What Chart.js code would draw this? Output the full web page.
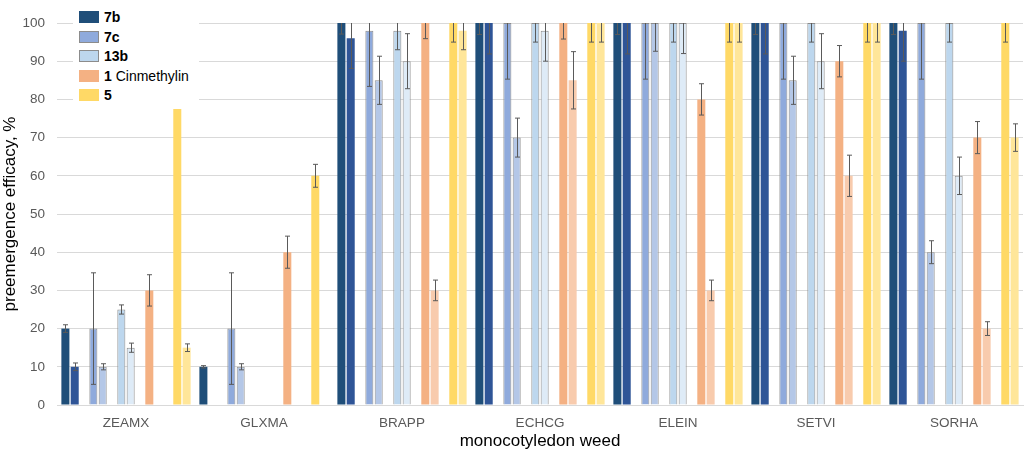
<!DOCTYPE html>
<html>
<head>
<meta charset="utf-8">
<script src="https://cdn.jsdelivr.net/npm/chart.js@4"></script>
<style>
  body { margin: 0; background: #fff; }
  #wrap { position: relative; width: 1024px; height: 453px; }
  #legend {
    position: absolute; left: 73px; top: 5px; width: 126px; height: 103px;
    background: #fff; font-family: "Liberation Sans", Arial, sans-serif; font-size: 14px; color: #000;
  }
  .item { position: absolute; left: 6px; height: 14px; line-height: 14px; white-space: nowrap; }
  .item span.box { position: absolute; left: 0; top: 1px; width: 20px; height: 12px; box-sizing: border-box; }
  .item span.lbl { position: absolute; left: 25px; top: 0; }
</style>
</head>
<body>
<div id="wrap">
  <canvas id="chart"></canvas>
  <div id="legend"></div>
</div>
<script>
// categories
const weeds = ['ZEAMX', 'GLXMA', 'BRAPP', 'ECHCG', 'ELEIN', 'SETVI', 'SORHA'];

// efficacy values (%), higher dose then lower dose per compound
const b7High  = [20, 10, 100, 100, 100, 100, 100];
const b7Low   = [10,  0,  96, 100, 100, 100,  98];
const c7High  = [20, 20,  98, 100, 100, 100, 100];
const c7Low   = [10, 10,  85,  70, 100,  85,  40];
const b13High = [25,  0,  98, 100, 100, 100, 100];
const b13Low  = [15,  0,  90,  98, 100,  90,  60];
const cinHigh = [30, 40, 100, 100,  80,  90,  70];
const cinLow  = [ 0,  0,  30,  85,  30,  60,  20];
const f5High  = [77.5, 60, 100, 100, 100, 100, 100];
const f5Low   = [15,  0,  98, 100, 100, 100,  70];

// error bar half-widths
const b7HighErr  = [1, 0.3, 2.9, 3, 3, 3, 3];
const b7LowErr   = [1, 0, 7.9, 8.1, 8.1, 8.1, 8];
const c7HighErr  = [14.6, 14.6, 14.6, 14.7, 14.7, 14.7, 14.7];
const c7LowErr   = [0.8, 0.8, 6.3, 5.1, 7.4, 6.3, 3];
const b13HighErr = [1.2, 0, 5, 5, 5, 5, 5];
const b13LowErr  = [1.2, 0, 7.2, 8, 8, 7.2, 4.9];
const cinHighErr = [4.1, 4.2, 4.1, 4.2, 4.1, 4.1, 4.2];
const cinLowErr  = [0, 0, 2.7, 7.5, 2.7, 5.4, 1.8];
const f5HighErr  = [0, 3, 5, 5, 5, 5, 5];
const f5LowErr   = [1, 0, 5, 5, 5, 5, 3.6];

const yTicks = [0, 10, 20, 30, 40, 50, 60, 70, 80, 90, 100];

const FONT = '"Liberation Sans", Arial, sans-serif';
const GREY_EDGE = '#8c8c8c';

function bars(data, err, color, edge) {
  return {
    data, err,
    backgroundColor: color,
    borderColor: edge || color,
    borderWidth: edge ? 1 : 0
  };
}
const gap = () => ({ data: weeds.map(() => null), err: [] });

const datasets = [
  bars(b7High, b7HighErr, '#1F4E79'),
  bars(b7Low, b7LowErr, '#2F5597'),
  gap(),
  bars(c7High, c7HighErr, '#8FAADC', GREY_EDGE),
  bars(c7Low, c7LowErr, '#B4C7E7', GREY_EDGE),
  gap(),
  bars(b13High, b13HighErr, '#BDD7EE', GREY_EDGE),
  bars(b13Low, b13LowErr, '#DEEBF7', GREY_EDGE),
  gap(),
  bars(cinHigh, cinHighErr, '#F4B183'),
  bars(cinLow, cinLowErr, '#F8CBAD'),
  gap(),
  bars(f5High, f5HighErr, '#FFD966'),
  bars(f5Low, f5LowErr, '#FFE699')
];

// error bars drawn from the y scale
const errorBars = {
  id: 'errorBars',
  afterDatasetsDraw(chart) {
    const { ctx, chartArea: a, scales: { y } } = chart;
    ctx.save();
    ctx.beginPath();
    ctx.rect(a.left, a.top, a.right - a.left, a.bottom - a.top);
    ctx.clip();
    ctx.strokeStyle = '#5a5a5a';
    ctx.lineWidth = 1;
    chart.data.datasets.forEach((ds, di) => {
      const meta = chart.getDatasetMeta(di);
      (ds.err || []).forEach((e, i) => {
        if (!e || ds.data[i] == null) return;
        const x = Math.round(meta.data[i].x) + 0.5;
        const yHi = y.getPixelForValue(ds.data[i] + e);
        const yLo = y.getPixelForValue(ds.data[i] - e);
        ctx.beginPath();
        ctx.moveTo(x, yHi); ctx.lineTo(x, yLo);
        ctx.moveTo(x - 2.5, yHi); ctx.lineTo(x + 2.5, yHi);
        ctx.moveTo(x - 2.5, yLo); ctx.lineTo(x + 2.5, yLo);
        ctx.stroke();
      });
    });
    ctx.restore();
  }
};

new Chart(document.getElementById('chart'), {
  type: 'bar',
  data: { labels: weeds, datasets },
  options: {
    responsive: true,
    maintainAspectRatio: false,
    animation: false,
    categoryPercentage: 0.946,
    barPercentage: 0.86,
    layout: { padding: { top: 23, right: 1, left: 0, bottom: 0 } },
    plugins: { legend: { display: false }, tooltip: { enabled: false } },
    scales: {
      x: {
        grid: { display: false, drawTicks: false },
        border: { color: '#d9d9d9' },
        ticks: { color: '#595959', font: { family: FONT, size: 13.5 }, padding: 10 },
        title: { display: true, text: 'monocotyledon weed', color: '#000',
                 font: { family: FONT, size: 17 }, padding: { top: 0, bottom: 1 } },
        afterFit(s) { s.height = 48; }
      },
      y: {
        min: 0, max: 100,
        afterBuildTicks(s) { s.ticks = yTicks.map(v => ({ value: v })); },
        grid: { color: '#d9d9d9', drawTicks: false },
        border: { display: false },
        ticks: { color: '#595959', font: { family: FONT, size: 13.5 }, padding: 12 },
        title: { display: true, text: 'preemergence efficacy, %', color: '#000',
                 font: { family: FONT, size: 17 }, padding: { top: 0, bottom: 0 } },
        afterFit(s) { s.width = 57; }
      }
    }
  },
  plugins: [errorBars]
});

// legend with the higher-dose colours
const legendItems = [
  { html: '<b>7b</b>', color: '#1F4E79', edge: '#1F4E79' },
  { html: '<b>7c</b>', color: '#8FAADC', edge: GREY_EDGE },
  { html: '<b>13b</b>', color: '#BDD7EE', edge: GREY_EDGE },
  { html: '<b>1</b> Cinmethylin', color: '#F4B183', edge: '#F4B183' },
  { html: '<b>5</b>', color: '#FFD966', edge: '#FFD966' }
];
const legend = document.getElementById('legend');
legendItems.forEach((it, i) => {
  const d = document.createElement('div');
  d.className = 'item';
  d.style.top = (5 + i * 19.6) + 'px';
  d.innerHTML = `<span class="box" style="background:${it.color};border:1px solid ${it.edge}"></span><span class="lbl">${it.html}</span>`;
  legend.append(d);
});
</script>
</body>
</html>
